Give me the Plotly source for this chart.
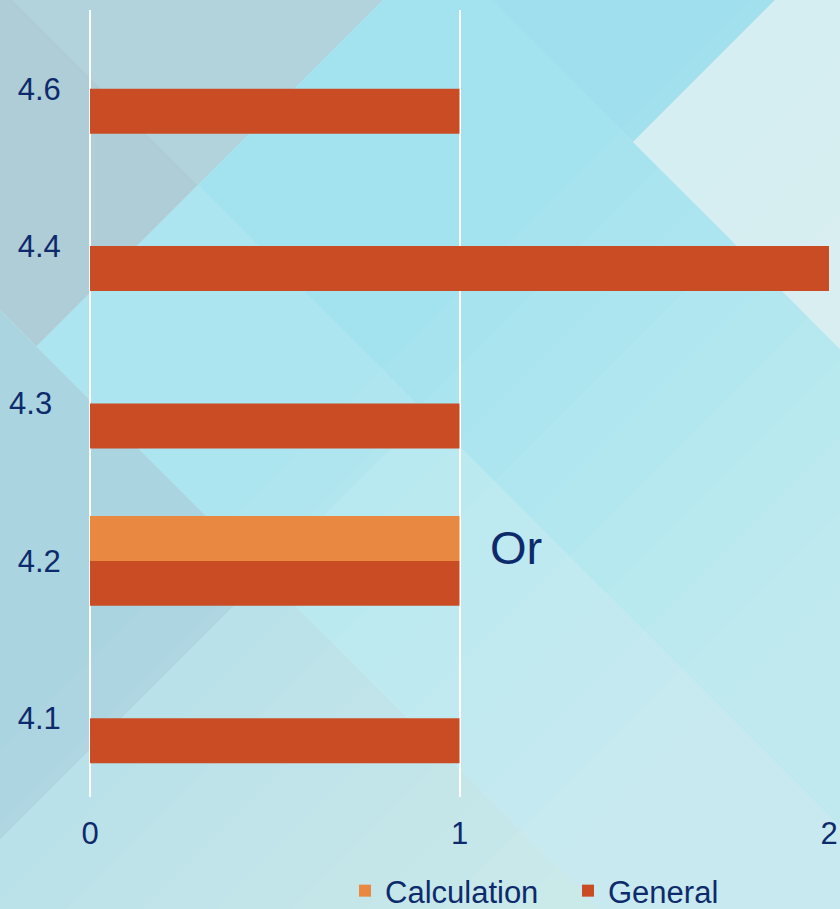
import plotly.graph_objects as go

# ---- data ----
categories = ["4.1", "4.2", "4.3", "4.4", "4.6"]
calculation = [None, 1, None, None, None]
general = [1, 1, 1, 2, 1]
x_ticks = [0, 1, 2]
note_text = "Or"

# ---- styling ----
W, H = 840, 909
ML, MR, MT, MB = 90, 11, 10, 112
PW, PH = W - ML - MR, H - MT - MB
NAVY = "#0D2B6C"
FONT = "Liberation Sans, Arial, sans-serif"


def px(x):
    return (x - ML) / PW


def py(y):
    return (H - MB - y) / PH


def poly(pts, color, opacity=1.0):
    d = "M " + " L ".join(f"{px(x):.5f},{py(y):.5f}" for x, y in pts) + " Z"
    return dict(type="path", path=d, xref="paper", yref="paper",
                fillcolor=color, opacity=opacity, line=dict(width=0), layer="below")


shapes = [
    poly([(13, 0), (383, 0), (198, 185)], "#B3D3DC"),
    poly([(-60, -60), (13, 0), (198, 185), (36.5, 346.5), (-60, 250)], "#AECDD6"),
    poly([(-60, 250), (265, 575), (-60, 900)], "#AAD4E0"),
    poly([(265, 575), (700, 1010), (-60, 1010), (-60, 900)], "#B3DFE8"),
    poly([(198, 185), (426.5, 413.5), (265, 575), (36.5, 346.5)], "#ACE4EF"),
    poly([(403, -20), (472, -20), (633, 142), (900, 409), (900, 887), (198, 185)], "#A3E2EF"),
    poly([(426.5, 413.5), (900, 887), (900, 1010), (700, 1010), (265, 575)], "#B2E7F0"),
    poly([(472, -20), (795, -20), (633, 142)], "#9FDFEE"),
    poly([(795, -20), (900, -20), (900, 409), (633, 142)], "#D3EEF1"),
]
for T in range(750, 1500, 75):
    shapes.append(poly([(T + 60, -60), (1000, -60), (1000, 1010), (T - 1010, 1010)], "white", 0.045))

fig = go.Figure()
fig.add_trace(go.Bar(y=categories, x=general, name="General", orientation="h",
                     marker=dict(color="#C94C24", line=dict(width=0))))
fig.add_trace(go.Bar(y=categories, x=calculation, name="Calculation", orientation="h",
                     marker=dict(color="#E98840", line=dict(width=0))))

tick_text = [c + ("\u00a0" if c == "4.3" else "") for c in categories]

fig.update_layout(
    width=W, height=H,
    margin=dict(l=ML, r=MR, t=MT, b=MB, pad=0, autoexpand=False),
    paper_bgcolor="#C2E7EE",
    plot_bgcolor="rgba(0,0,0,0)",
    font=dict(family=FONT, size=31, color=NAVY),
    barmode="group", bargap=3 / 7, bargroupgap=0,
    shapes=shapes,
    showlegend=True,
    legend=dict(orientation="h", traceorder="reversed", xref="container", yref="container",
                x=345 / W, xanchor="left", y=1 - 891 / H, yanchor="middle",
                entrywidth=178, entrywidthmode="pixels",
                bgcolor="rgba(0,0,0,0)",
                font=dict(family=FONT, size=31, color=NAVY)),
    xaxis=dict(range=[0, 2], tickvals=x_ticks, showgrid=True, gridcolor="white",
               gridwidth=2, zeroline=True, zerolinecolor="white", zerolinewidth=2,
               showline=False, ticks="outside", ticklen=9, tickcolor="rgba(0,0,0,0)",
               automargin=False,
               tickfont=dict(family=FONT, size=31, color=NAVY)),
    yaxis=dict(type="category", categoryorder="array", categoryarray=categories,
               tickvals=categories, ticktext=tick_text, showgrid=False, zeroline=False,
               showline=False, ticks="outside", ticklen=22, tickcolor="rgba(0,0,0,0)",
               automargin=False,
               tickfont=dict(family=FONT, size=31, color=NAVY)),
    annotations=[dict(text=note_text, xref="x", yref="paper", x=1.077, y=py(548),
                      xanchor="left", yanchor="middle", showarrow=False,
                      font=dict(family=FONT, size=47, color=NAVY))],
)

fig.write_html("out.html", config={"displayModeBar": False},
               post_script="document.body.style.margin='0';")
